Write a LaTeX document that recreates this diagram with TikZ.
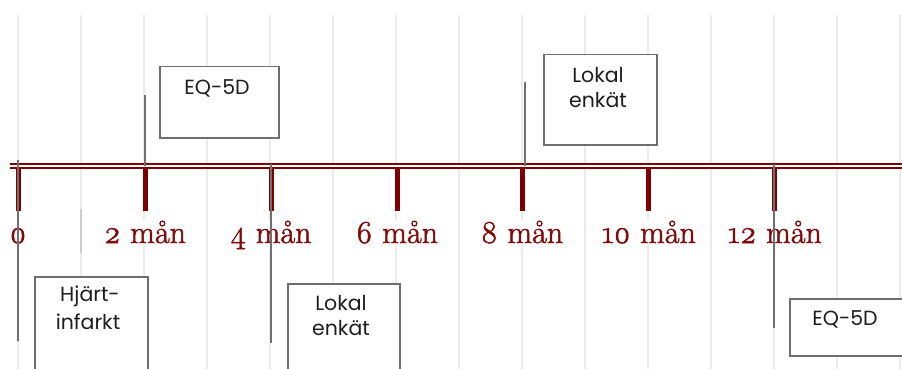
\documentclass[tikz,border=0pt]{standalone}
\usepackage{fontspec}
\newfontfamily\boxfont{Poppins}
\newfontfamily\labfont[Numbers=OldStyle,FakeBold=1.6]{Latin Modern Roman}
\definecolor{maroon}{RGB}{128,0,0}
\definecolor{labred}{RGB}{130,10,10}
\definecolor{linegray}{RGB}{112,112,112}
\definecolor{boxgray}{RGB}{110,110,110}
\definecolor{txtgray}{RGB}{30,30,30}
\definecolor{gridgray}{RGB}{235,235,235}
\definecolor{griddark}{RGB}{205,205,205}
\begin{document}
\begin{tikzpicture}[x=1pt,y=-1pt,
  gridline/.style={draw=gridgray, line width=1.4pt},
  axisline/.style={draw=maroon, line width=6.2pt},
  axisgap/.style={draw=white, line width=1.8pt},
  tickmark/.style={draw=maroon, line width=5pt},
  lab/.style={anchor=base, fill=white, inner sep=1pt, text=labred, font=\labfont\fontsize{32}{38}\selectfont},
  callout/.style={draw=linegray, line width=1.5pt},
  boxnode/.style={draw=boxgray, line width=1.5pt, fill=white, inner sep=0pt, anchor=north west},
  boxtext/.style={anchor=base, text=txtgray, font=\boxfont\fontsize{20.5}{24}\selectfont, inner sep=0pt}]
\useasboundingbox (0,0) rectangle (902,369);
\clip (0,0) rectangle (902,369);
\fill[white] (0,0) rectangle (902,369);
% grid
\foreach \k in {0,...,14}{
  \coordinate (gt\k) at ({18+63*\k},15);
  \coordinate (gb\k) at ({18+63*\k},369);
  \draw[gridline] (gt\k) -- (gb\k);
}
\coordinate (gd1) at (81,209);
\coordinate (gd2) at (81,253);
\draw[draw=griddark, line width=1.4pt] (gd1) -- (gd2);
% labels
\node[lab] (l0) at (18,243) {0};
\node[lab] (l2) at (145,243) {2 mån};
\node[lab] (l4) at (271,243) {4 mån};
\node[lab] (l6) at (397,243) {6 mån};
\node[lab] (l8) at (522,243) {8 mån};
\node[lab] (l10) at (649,243) {10 mån};
\node[lab] (l12) at (775,243) {12 mån};
% axis (double line)
\coordinate (a1) at (10,166);
\coordinate (a2) at (902,166);
\draw[axisline] (a1) -- (a2);
\draw[axisgap] (a1) -- (a2);
% ticks
\foreach \x [count=\i] in {18,145,271,397,522,648,774}{
  \coordinate (tt\i) at (\x,168);
  \coordinate (tb\i) at (\x,211);
  \draw[tickmark] (tt\i) -- (tb\i);
}
% callout lines
\coordinate (c1a) at (18,160);  \coordinate (c1b) at (18,341);
\coordinate (c2a) at (145,95);  \coordinate (c2b) at (145,166);
\coordinate (c3a) at (271,164); \coordinate (c3b) at (271,343);
\coordinate (c4a) at (525,82);  \coordinate (c4b) at (525,166);
\coordinate (c5a) at (774,164); \coordinate (c5b) at (774,328);
\draw[callout] (c1a) -- (c1b);
\draw[callout] (c2a) -- (c2b);
\draw[callout] (c3a) -- (c3b);
\draw[callout] (c4a) -- (c4b);
\draw[callout] (c5a) -- (c5b);
% boxes
\node[boxnode, minimum width=119pt, minimum height=71pt] (box1) at (159,66) {};
\node[boxnode, minimum width=113pt, minimum height=90pt] (box2) at (543,54) {};
\node[boxnode, minimum width=113pt, minimum height=100pt] (box3) at (34,276) {};
\node[boxnode, minimum width=112pt, minimum height=95pt] (box4) at (287,283) {};
\node[boxnode, minimum width=120pt, minimum height=57pt] (box5) at (789,298) {};
% box texts
\node[boxtext] (t1) at (217,94) {EQ-5D};
\node[boxtext] (t2a) at (598,82) {Lokal};
\node[boxtext] (t2b) at (598,107) {enkät};
\node[boxtext] (t3a) at (90,301) {Hjärt-};
\node[boxtext] (t3b) at (88,329) {infarkt};
\node[boxtext] (t4a) at (341,310) {Lokal};
\node[boxtext] (t4b) at (341,335) {enkät};
\node[boxtext] (t5) at (845,325) {EQ-5D};
\end{tikzpicture}
\end{document}
